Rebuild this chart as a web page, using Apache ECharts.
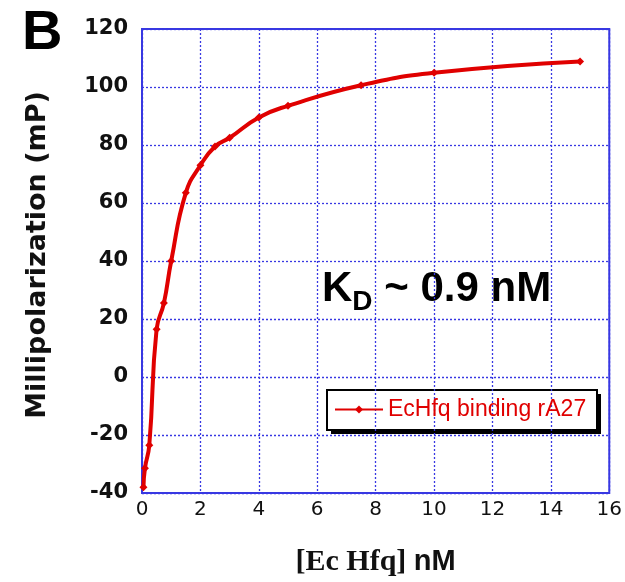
<!DOCTYPE html>
<html>
<head>
<meta charset="utf-8">
<script src="https://cdn.jsdelivr.net/npm/echarts@6/dist/echarts.min.js"></script>
<style>
  html, body { margin: 0; padding: 0; background: #fff; }
  #chart { width: 625px; height: 582px; }
</style>
</head>
<body>
<div id="chart"></div>
<script>
// [Ec Hfq] concentration (nM) and measured millipolarization (mP)
const concentration = [0.05, 0.1, 0.25, 0.5, 0.75, 1, 1.5, 2, 2.5, 3, 4, 5, 7.5, 10, 15]
const polarization = [-38, -31.5, -23.5, 16.5, 25.5, 40, 63.5, 73, 79.5, 82.5, 89.5, 93.5, 100.6, 104.9, 108.8]
const xTicks = [0, 2, 4, 6, 8, 10, 12, 14, 16]
const yTicks = [-40, -20, 0, 20, 40, 60, 80, 100, 120]

const blue = '#3838e2'
const red = '#e00000'

const chart = echarts.init(document.getElementById('chart'))

chart.setOption({
  animation: false,
  backgroundColor: '#fff',
  grid: {
    left: 142, right: 15, top: 29, bottom: 85,
    show: true,
    borderColor: blue,
    borderWidth: 2,
    backgroundColor: 'transparent',
  },
  xAxis: {
    type: 'value',
    min: xTicks[0],
    max: xTicks[xTicks.length - 1],
    interval: 2,
    axisLine: { show: false },
    axisTick: { show: false },
    axisLabel: {
      color: '#111', fontSize: 20, fontFamily: 'DejaVu Sans', margin: 7,
    },
    splitLine: { show: true, lineStyle: { color: blue, type: [2, 2], width: 1.3 } },
    name: '{serif|[Ec Hfq] }{sans|nM}',
    nameLocation: 'middle',
    nameGap: 54,
    nameTextStyle: {
      rich: {
        serif: { fontFamily: 'Liberation Serif', fontWeight: 'bold', fontSize: 30, color: '#111' },
        sans: { fontFamily: 'Liberation Sans', fontWeight: 'bold', fontSize: 29, color: '#111' },
      },
    },
  },
  yAxis: {
    type: 'value',
    min: yTicks[0],
    max: yTicks[yTicks.length - 1],
    interval: 20,
    axisLine: { show: false },
    axisTick: { show: false },
    axisLabel: {
      color: '#111', fontSize: 21, fontWeight: 'bold', fontFamily: 'DejaVu Sans', margin: 14,
    },
    splitLine: { show: true, lineStyle: { color: blue, type: [2, 2], width: 1.3 } },
  },
  legend: {
    left: 334,
    top: 398,
    orient: 'horizontal',
    padding: 0,
    itemWidth: 48,
    itemHeight: 10,
    itemGap: 6,
    textStyle: { color: red, fontSize: 23, fontFamily: 'Liberation Sans' },
    data: ['EcHfq binding rA27'],
  },
  series: [
    {
      name: 'EcHfq binding rA27',
      type: 'line',
      data: concentration.map((c, i) => [c, polarization[i]]),
      smooth: 0.5,
      symbol: 'diamond',
      symbolSize: 8,
      itemStyle: { color: red },
      lineStyle: { color: red, width: 4 },
    },
  ],
  graphic: [
    // legend frame with its drop shadow
    {
      type: 'rect', z: 0,
      shape: { x: 331, y: 394, width: 270, height: 40 },
      style: { fill: '#000' },
    },
    {
      type: 'rect', z: 0,
      shape: { x: 327, y: 390, width: 270, height: 40 },
      style: { fill: '#fff', stroke: '#000', lineWidth: 2 },
    },
    {
      type: 'text',
      x: 38, y: 255,
      rotation: Math.PI / 2,
      style: {
        text: 'Millipolarization (mP)',
        font: 'bold 27px "DejaVu Sans"',
        fill: '#111',
        align: 'center',
        verticalAlign: 'middle',
      },
    },
    {
      type: 'text',
      left: 22,
      top: 6,
      style: {
        text: 'B',
        font: 'bold 56px "Liberation Sans"',
        fill: '#000',
      },
    },
    {
      type: 'text',
      left: 322,
      top: 268,
      style: {
        text: '{k|K}{d|D}{k| ~ 0.9 nM}',
        rich: {
          k: { font: 'bold 42px "Liberation Sans"', fill: '#000' },
          d: { font: 'bold 28px "Liberation Sans"', fill: '#000', verticalAlign: 'bottom', padding: [26, 0, 0, 0] },
        },
      },
    },
  ],
})
</script>
</body>
</html>
